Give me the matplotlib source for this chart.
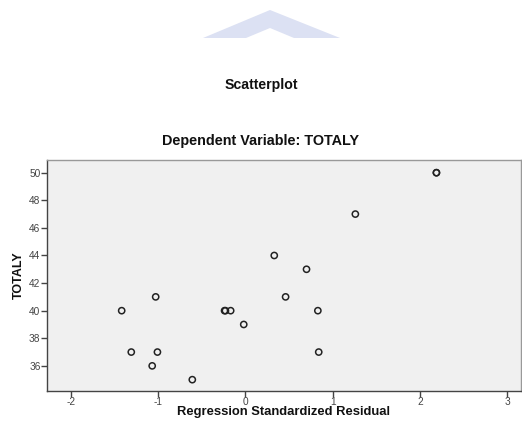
import matplotlib
matplotlib.use("Agg")
import matplotlib.pyplot as plt
from matplotlib.patches import Polygon

# Data: regression standardized residual vs TOTALY
residuals = [-1.42, -1.03, -1.31, -1.01, -1.07, -0.61, -0.23, -0.24, -0.17, -0.02,
             0.33, 0.70, 0.46, 0.83, 0.84, 1.26, 2.19, 2.19]
totaly = [40, 41, 37, 37, 36, 35, 40, 40, 40, 39,
          44, 43, 41, 40, 37, 47, 50, 50]
x_ticks = [-2, -1, 0, 1, 2, 3]
y_ticks = [36, 38, 40, 42, 44, 46, 48, 50]

W, H = 522, 428
fig = plt.figure(figsize=(W / 100, H / 100), dpi=100)
fig.patch.set_facecolor("white")
FONT = ["Liberation Sans", "DejaVu Sans"]


def fx(px):
    return px / W


def fy(py):
    return 1 - py / H


# watermark chevron at the top
chevron = Polygon([(fx(203), fy(38)), (fx(270), fy(10)), (fx(340), fy(38)),
                   (fx(294), fy(38)), (fx(270), fy(28)), (fx(246), fy(38))],
                  closed=True, transform=fig.transFigure, facecolor="#DCE1F3",
                  edgecolor="none")
fig.add_artist(chevron)

fig.text(0.5, fy(85), "Scatterplot", ha="center", va="center",
         fontsize=10.2, fontweight="bold", family=FONT, color="#111111")
fig.text(0.5, fy(141), "Dependent Variable: TOTALY", ha="center", va="center",
         fontsize=10.4, fontweight="bold", family=FONT, color="#111111")

left, right = 46.7, 521
top, bottom = 160, 390.7
ax = fig.add_axes([left / W, 1 - bottom / H, (right - left) / W, (bottom - top) / H])
ax.set_facecolor("#F0F0F0")
ax.scatter(residuals, totaly, s=20, facecolors="none", edgecolors="#222222",
           linewidths=1.1, zorder=3)

ax.set_xlim(-2.28, 3.16)
ax.set_ylim(34.2, 50.92)
ax.set_xticks(x_ticks)
ax.set_yticks(y_ticks)
ax.set_xticklabels([str(v) for v in x_ticks], family=FONT, fontsize=7.3)
ax.set_yticklabels([str(v) for v in y_ticks], family=FONT, fontsize=7.3)
ax.tick_params(axis="both", direction="out", length=4, width=1,
               colors="#444444", pad=0.5)

for side in ["top", "right"]:
    ax.spines[side].set_color("#999999")
    ax.spines[side].set_linewidth(1)
for side in ["left", "bottom"]:
    ax.spines[side].set_color("#444444")
    ax.spines[side].set_linewidth(1)

fig.text(0.5 * (left + right) / W, fy(412), "Regression Standardized Residual",
         ha="center", va="center", fontsize=9.4, fontweight="bold",
         family=FONT, color="#111111")
fig.text(fx(19), fy(275), "TOTALY", ha="center", va="center", rotation=90,
         fontsize=9, fontweight="bold", family=FONT, color="#111111")

fig.savefig("out.png", dpi=100)
